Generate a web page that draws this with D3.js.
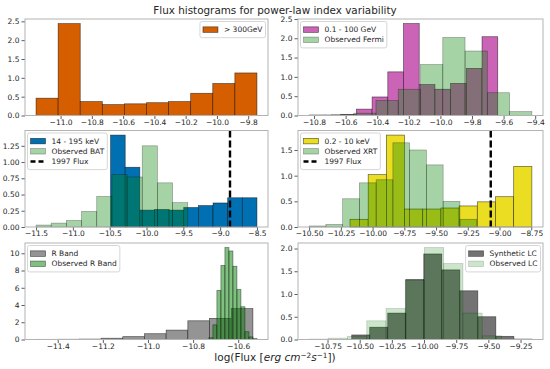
<!DOCTYPE html>
<html>
<head>
<meta charset="utf-8">
<title>Flux histograms</title>
<script src="https://d3js.org/d3.v7.min.js"></script>
<style>
  body { margin: 0; background: #fff; }
  text { font-family: "DejaVu Sans", sans-serif; fill: #262626; }
</style>
</head>
<body>
<script>
// ---- values (log flux bins, density heights) ----
// each histogram: [first edge, last edge] and equal-width bin heights
const vheRange = [-11.157, -9.744];
const vheCounts = [0.46, 2.44, 0.37, 0.29, 0.31, 0.34, 0.37, 0.59, 0.85, 1.13];

const fermiRange = [-10.83, -9.637];
const fermiCounts = [0.01, 0.01, 0.03, 0.165, 0.48, 1.13, 2.38, 0.80, 0.68, 0.83, 1.22, 2.04];
const fermiObsRange = [-10.831, -9.421];
const fermiObsCounts = [0.01, 0.02, 0.06, 0.39, 0.68, 1.32, 2.02, 1.67, 0.59, 0.10];

const batRange = [-10.488, -8.5];
const batCounts = [1.415, 0.92, 0.26, 0.27, 0.26, 0.30, 0.33, 0.37, 0.45, 0.45];
const batObsRange = [-11.5, -9.44];
const batObsCounts = [0.03, 0.06, 0.10, 0.24, 0.47, 0.81, 0.77, 1.25, 0.68, 0.375];
const batFlux1997 = -8.866;

const xrtRange = [-10.178, -8.745];
const xrtCounts = [0.15, 1.02, 1.79, 0.35, 0.35, 0.37, 0.41, 0.49, 0.59, 1.18];
const xrtObsRange = [-10.50, -9.18];
const xrtObsCounts = [0.02, 0.05, 0.55, 0.86, 0.92, 1.64, 1.50, 1.21, 0.50, 0.15];
const xrtFlux1997 = -9.069;

const rRange = [-11.496, -10.535];
const rCounts = [0.02, 0.03, 0.05, 0.15, 0.33, 0.67, 1.09, 2.17, 2.45, 3.58];
const rObsRange = [-10.730, -10.517];
const rObsCounts = [0.2, 1.7, 5.7, 8.6, 10.66, 10.27, 8.5, 5.8, 3.8, 0.9, 0.3, 0.12];

const lcRange = [-10.562, -9.162];
const lcCounts = [0.10, 0.27, 0.58, 1.32, 1.88, 1.53, 1.07, 0.50, 0.07, 0.01];
const lcObsRange = [-10.893, -9.399];
const lcObsCounts = [0.01, 0.03, 0.066, 0.41, 0.68, 1.30, 2.02, 1.67, 0.58, 0.08];

// tick values
const xTicksVhe = [-11.0, -10.8, -10.6, -10.4, -10.2, -10.0, -9.8];
const xTicksFermi = [-10.8, -10.6, -10.4, -10.2, -10.0, -9.8, -9.6, -9.4];
const xTicksBat = [-11.5, -11.0, -10.5, -10.0, -9.5, -9.0, -8.5];
const xTicksXrt = [-10.5, -10.25, -10.0, -9.75, -9.5, -9.25, -9.0, -8.75];
const xTicksR = [-11.4, -11.2, -11.0, -10.8, -10.6];
const xTicksLc = [-10.75, -10.5, -10.25, -10.0, -9.75, -9.5, -9.25];
const yTicksVhe = [0, 0.5, 1.0, 1.5, 2.0, 2.5];
const yTicksFermi = [0, 0.5, 1.0, 1.5, 2.0, 2.5];
const yTicksBat = [0, 0.25, 0.5, 0.75, 1.0, 1.25];
const yTicksXrt = [0, 0.5, 1.0, 1.5];
const yTicksR = [0, 2, 4, 6, 8, 10];
const yTicksLc = [0, 0.5, 1.0, 1.5, 2.0];

// ---- layout ----
const width = 550, height = 369;
const cols = [[25, 268], [298, 543]];
const rows = [[19, 115.5], [130.5, 227], [243, 339.5]];
const green = "#008000";

const panels = [
  {c: 0, r: 0, legend: "right", xt: xTicksVhe, fx: ".1f", yt: yTicksVhe, fy: ".1f",
   series: [{name: "> 300GeV", range: vheRange, counts: vheCounts, fill: "#d55e00", a: 1}]},
  {c: 1, r: 0, legend: "left", xt: xTicksFermi, fx: ".1f", yt: yTicksFermi, fy: ".1f",
   series: [{name: "0.1 - 100 GeV", range: fermiRange, counts: fermiCounts, fill: "#cb64b7", a: 1},
            {name: "Observed Fermi", range: fermiObsRange, counts: fermiObsCounts, fill: green, a: 0.35}]},
  {c: 0, r: 1, legend: "left", xt: xTicksBat, fx: ".1f", yt: yTicksBat, fy: ".2f", vline: batFlux1997,
   series: [{name: "14 - 195 keV", range: batRange, counts: batCounts, fill: "#0170b2", a: 1},
            {name: "Observed BAT", range: batObsRange, counts: batObsCounts, fill: green, a: 0.35}]},
  {c: 1, r: 1, legend: "left", xt: xTicksXrt, fx: ".2f", yt: yTicksXrt, fy: ".1f", vline: xrtFlux1997,
   series: [{name: "0.2 - 10 keV", range: xrtRange, counts: xrtCounts, fill: "#ebde22", a: 1},
            {name: "Observed XRT", range: xrtObsRange, counts: xrtObsCounts, fill: green, a: 0.35}]},
  {c: 0, r: 2, legend: "left", xt: xTicksR, fx: ".1f", yt: yTicksR, fy: "d",
   series: [{name: "R Band", range: rRange, counts: rCounts, fill: "#949494", a: 1},
            {name: "Observed R Band", range: rObsRange, counts: rObsCounts, fill: green, a: 0.5}]},
  {c: 1, r: 2, legend: "right", xt: xTicksLc, fx: ".2f", yt: yTicksLc, fy: ".1f",
   series: [{name: "Synthetic LC", range: lcRange, counts: lcCounts, fill: "#000", a: 0.55},
            {name: "Observed LC", range: lcObsRange, counts: lcObsCounts, fill: green, a: 0.2}]}
];

const svg = d3.select("body").append("svg")
  .attr("width", width).attr("height", height);

panels.forEach(function(p) {
  const [x0, x1] = cols[p.c], [y0, y1] = rows[p.r];
  const lo = d3.min(p.series, s => s.range[0]);
  const hi = d3.max(p.series, s => s.range[1]);
  const pad = (hi - lo) * 0.05;
  const x = d3.scaleLinear().domain([lo - pad, hi + pad]).range([x0, x1]);
  const y = d3.scaleLinear()
    .domain([0, d3.max(p.series, s => d3.max(s.counts)) * 1.05])
    .range([y1, y0]);

  const g = svg.append("g");
  p.series.forEach(function(s) {
    const edge = d3.scaleLinear().domain([0, s.counts.length]).range(s.range);
    g.selectAll(null).data(s.counts).join("rect")
      .attr("x", (d, i) => x(edge(i)))
      .attr("width", (d, i) => x(edge(i + 1)) - x(edge(i)))
      .attr("y", d => y(d))
      .attr("height", d => y1 - y(d))
      .attr("fill", s.fill).attr("fill-opacity", s.a)
      .attr("stroke", "#000").attr("stroke-opacity", s.a < 1 ? s.a : 0.6)
      .attr("stroke-width", 0.7);
  });

  if (p.vline != null) {
    g.append("line")
      .attr("x1", x(p.vline)).attr("x2", x(p.vline))
      .attr("y1", y0).attr("y2", y1)
      .attr("stroke", "#000").attr("stroke-width", 2.4)
      .attr("stroke-dasharray", "7,3");
  }

  // axes
  const ax = svg.append("g").attr("transform", `translate(0,${y1})`)
    .call(d3.axisBottom(x).tickValues(p.xt).tickFormat(d3.format(p.fx)).tickSize(3.5).tickPadding(0.5));
  const ay = svg.append("g").attr("transform", `translate(${x0},0)`)
    .call(d3.axisLeft(y).tickValues(p.yt).tickFormat(d3.format(p.fy)).tickSize(3.5).tickPadding(2));
  [ax, ay].forEach(a => {
    a.select(".domain").remove();
    a.selectAll("line").attr("stroke", "#333").attr("stroke-width", 0.8);
    a.selectAll("text").attr("font-size", "7.5px").attr("fill", "#262626")
      .attr("font-family", "DejaVu Sans");
  });

  svg.append("rect")
    .attr("x", x0).attr("y", y0).attr("width", x1 - x0).attr("height", y1 - y0)
    .attr("fill", "none").attr("stroke", "#b3b3b3").attr("stroke-width", 1);

  // legend
  const items = p.series.map(s => ({name: s.name, s: s}));
  if (p.vline != null) items.push({name: "1997 Flux", line: true});
  const lg = svg.append("g");
  const pitch = 10.2;
  const box = lg.append("rect");
  let tw = 0;
  items.forEach(function(it, i) {
    const cy = 8.1 + i * pitch;
    if (it.line) {
      lg.append("line").attr("x1", 3).attr("x2", 18).attr("y1", cy).attr("y2", cy)
        .attr("stroke", "#000").attr("stroke-width", 2.4).attr("stroke-dasharray", "5,3");
    } else {
      lg.append("rect").attr("x", 3).attr("y", cy - 2.75).attr("width", 15).attr("height", 5.5)
        .attr("fill", it.s.fill).attr("fill-opacity", it.s.a)
        .attr("stroke", "#000").attr("stroke-opacity", it.s.a < 1 ? it.s.a : 0.6)
        .attr("stroke-width", 0.7);
    }
    const t = lg.append("text").attr("x", 24).attr("y", cy).attr("dy", "0.35em")
      .attr("font-size", "7.5px").text(it.name);
    tw = Math.max(tw, t.node().getComputedTextLength());
  });
  const bw = 24 + tw + 3, bh = items.length * pitch + 6;
  box.attr("width", bw).attr("height", bh).attr("rx", 2)
    .attr("fill", "#fff").attr("fill-opacity", 0.8)
    .attr("stroke", "#cccccc").attr("stroke-width", 0.8);
  const lx = p.legend === "left" ? x0 + 2.5 : x1 - 2.5 - bw;
  lg.attr("transform", `translate(${lx},${y0 + 2.5})`);
});

// title and shared x label
svg.append("text").attr("x", 275).attr("y", 10).attr("dy", "0.35em")
  .attr("text-anchor", "middle").attr("font-size", "10.4px")
  .text("Flux histograms for power-law index variability");

const xl = svg.append("text").attr("x", 275).attr("y", 361)
  .attr("text-anchor", "middle").attr("font-size", "10.5px");
xl.append("tspan").text("log(Flux [");
xl.append("tspan").attr("font-style", "italic").text("erg cm");
xl.append("tspan").attr("font-size", "7.3px").attr("dy", -3.5).text("\u22122");
xl.append("tspan").attr("font-style", "italic").attr("dy", 3.5).text("s");
xl.append("tspan").attr("font-size", "7.3px").attr("dy", -3.5).text("\u22121");
xl.append("tspan").attr("dy", 3.5).text("])");
</script>
</body>
</html>
